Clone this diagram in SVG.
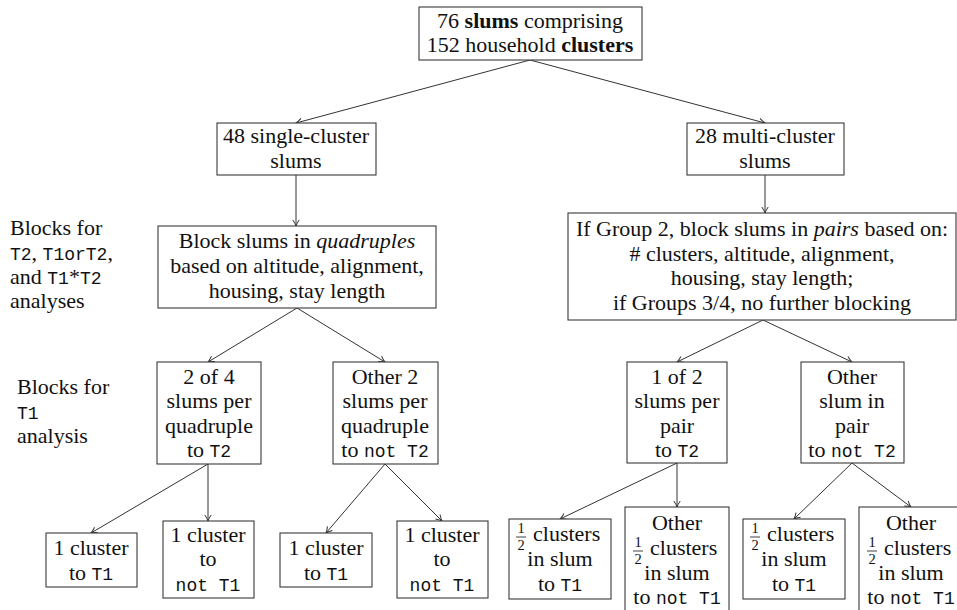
<svg xmlns="http://www.w3.org/2000/svg" width="957" height="610" viewBox="0 0 957 610">
<style>
  .bg{fill:#ffffff}
  .box{fill:#ffffff;stroke:#3a3a3a;stroke-width:1.1}
  .t{font-family:"Liberation Serif","Times New Roman",serif;font-size:22px;fill:#111111;text-anchor:middle}
  .l{font-family:"Liberation Serif","Times New Roman",serif;font-size:22px;fill:#111111;text-anchor:start}
  .cs{font-family:"Liberation Serif","Times New Roman",serif;font-size:22px;fill:#111111;text-anchor:start}
  .fr{font-family:"Liberation Serif","Times New Roman",serif;font-size:14.5px;fill:#111111;text-anchor:middle}
  .m{font-family:"Liberation Mono","Courier New",monospace;font-size:18px}
  .b{font-weight:bold}
  .i{font-style:italic}
  .bar{stroke:#111111;stroke-width:0.8}
  .c{fill:none;stroke:#333333;stroke-width:1}
</style>
<defs>
  <marker id="arr" viewBox="-8 -5 10 10" refX="0" refY="0" markerWidth="10" markerHeight="10" markerUnits="userSpaceOnUse" orient="auto">
    <path d="M-6,-3.2 Q-2.5,-0.8 0,0 Q-2.5,0.8 -6,3.2" fill="none" stroke="#333333" stroke-width="1"/>
  </marker>
</defs>
<rect class="bg" x="0" y="0" width="957" height="610"/>

<g id="connectors">
  <line class="c" x1="530" y1="60" x2="296" y2="123" marker-end="url(#arr)"/>
  <line class="c" x1="530" y1="60" x2="765" y2="123" marker-end="url(#arr)"/>
  <line class="c" x1="296" y1="175" x2="296" y2="226" marker-end="url(#arr)"/>
  <line class="c" x1="765" y1="175" x2="765" y2="213" marker-end="url(#arr)"/>
  <line class="c" x1="297" y1="308" x2="208" y2="362" marker-end="url(#arr)"/>
  <line class="c" x1="297" y1="308" x2="385" y2="362" marker-end="url(#arr)"/>
  <line class="c" x1="763" y1="320" x2="677" y2="362" marker-end="url(#arr)"/>
  <line class="c" x1="763" y1="320" x2="852" y2="362" marker-end="url(#arr)"/>
  <line class="c" x1="208" y1="464" x2="91" y2="533" marker-end="url(#arr)"/>
  <line class="c" x1="208" y1="464" x2="208" y2="521" marker-end="url(#arr)"/>
  <line class="c" x1="385" y1="464" x2="326" y2="533" marker-end="url(#arr)"/>
  <line class="c" x1="385" y1="464" x2="442" y2="521" marker-end="url(#arr)"/>
  <line class="c" x1="677" y1="463" x2="560" y2="519" marker-end="url(#arr)"/>
  <line class="c" x1="677" y1="463" x2="677" y2="507" marker-end="url(#arr)"/>
  <line class="c" x1="852" y1="463" x2="794" y2="519" marker-end="url(#arr)"/>
  <line class="c" x1="852" y1="463" x2="911" y2="507" marker-end="url(#arr)"/>
</g>

<g id="label-t2">
  <text class="l" x="10" y="235">Blocks for</text>
  <text class="l" x="10" y="260"><tspan class="m">T2</tspan>, <tspan class="m">T1orT2</tspan>,</text>
  <text class="l" x="10" y="284">and <tspan class="m">T1</tspan>*<tspan class="m">T2</tspan></text>
  <text class="l" x="10" y="308">analyses</text>
</g>
<g id="label-t1">
  <text class="l" x="17" y="394">Blocks for</text>
  <text class="l" x="17" y="419"><tspan class="m">T1</tspan></text>
  <text class="l" x="17" y="443">analysis</text>
</g>

<g id="root">
  <rect class="box" x="419" y="7" width="223" height="53"/>
  <text class="t" x="530" y="28">76 <tspan class="b">slums</tspan> comprising</text>
  <text class="t" x="530" y="52">152 household <tspan class="b">clusters</tspan></text>
</g>

<g id="single">
  <rect class="box" x="217" y="123" width="159" height="52"/>
  <text class="t" x="296" y="143">48 single-cluster</text>
  <text class="t" x="296" y="168">slums</text>
</g>

<g id="multi">
  <rect class="box" x="687" y="123" width="157" height="52"/>
  <text class="t" x="765" y="143">28 multi-cluster</text>
  <text class="t" x="765" y="168">slums</text>
</g>

<g id="quad">
  <rect class="box" x="158" y="226" width="278" height="82"/>
  <text class="t" x="297" y="248">Block slums in <tspan class="i">quadruples</tspan></text>
  <text class="t" x="297" y="273">based on altitude, alignment,</text>
  <text class="t" x="297" y="298">housing, stay length</text>
</g>

<g id="pairs">
  <rect class="box" x="568" y="213" width="388" height="107"/>
  <text class="t" x="762" y="236">If Group 2, block slums in <tspan class="i">pairs</tspan> based on:</text>
  <text class="t" x="762" y="261"># clusters, altitude, alignment,</text>
  <text class="t" x="762" y="285">housing, stay length;</text>
  <text class="t" x="762" y="310">if Groups 3/4, no further blocking</text>
</g>

<g id="two-of-four">
  <rect class="box" x="157" y="362" width="104" height="102"/>
  <text class="t" x="209" y="384">2 of 4</text>
  <text class="t" x="209" y="408">slums per</text>
  <text class="t" x="209" y="433">quadruple</text>
  <text class="t" x="209" y="457">to <tspan class="m">T2</tspan></text>
</g>

<g id="other-two">
  <rect class="box" x="333" y="362" width="105" height="102"/>
  <text class="t" x="385" y="384">Other 2</text>
  <text class="t" x="385" y="408">slums per</text>
  <text class="t" x="385" y="433">quadruple</text>
  <text class="t" x="385" y="457">to <tspan class="m">not T2</tspan></text>
</g>

<g id="one-of-two">
  <rect class="box" x="627" y="362" width="100" height="101"/>
  <text class="t" x="677" y="384">1 of 2</text>
  <text class="t" x="677" y="408">slums per</text>
  <text class="t" x="677" y="433">pair</text>
  <text class="t" x="677" y="457">to <tspan class="m">T2</tspan></text>
</g>

<g id="other-slum">
  <rect class="box" x="801" y="362" width="103" height="101"/>
  <text class="t" x="852" y="384">Other</text>
  <text class="t" x="852" y="408">slum in</text>
  <text class="t" x="852" y="433">pair</text>
  <text class="t" x="852" y="457">to <tspan class="m">not T2</tspan></text>
</g>

<g id="leaf1">
  <rect class="box" x="46" y="533" width="91" height="54"/>
  <text class="t" x="91" y="555">1 cluster</text>
  <text class="t" x="91" y="580">to <tspan class="m">T1</tspan></text>
</g>
<g id="leaf2">
  <rect class="box" x="163" y="521" width="91" height="77"/>
  <text class="t" x="208" y="542">1 cluster</text>
  <text class="t" x="208" y="566">to</text>
  <text class="t" x="208" y="591"><tspan class="m">not T1</tspan></text>
</g>
<g id="leaf3">
  <rect class="box" x="280" y="533" width="92" height="54"/>
  <text class="t" x="326" y="555">1 cluster</text>
  <text class="t" x="326" y="580">to <tspan class="m">T1</tspan></text>
</g>
<g id="leaf4">
  <rect class="box" x="397" y="521" width="91" height="77"/>
  <text class="t" x="442" y="542">1 cluster</text>
  <text class="t" x="442" y="566">to</text>
  <text class="t" x="442" y="591"><tspan class="m">not T1</tspan></text>
</g>

<g id="leaf5">
  <rect class="box" x="509" y="519" width="102" height="80"/>
  <text class="fr" x="521" y="533">1</text>
  <line class="bar" x1="516" y1="537" x2="526" y2="537"/>
  <text class="fr" x="521" y="550">2</text>
  <text class="cs" x="533" y="541">clusters</text>
  <text class="t" x="560" y="566">in slum</text>
  <text class="t" x="560" y="591">to <tspan class="m">T1</tspan></text>
</g>
<g id="leaf6">
  <rect class="box" x="625" y="507" width="104" height="106"/>
  <text class="t" x="677" y="530">Other</text>
  <text class="fr" x="638" y="547">1</text>
  <line class="bar" x1="633" y1="551" x2="643" y2="551"/>
  <text class="fr" x="638" y="564">2</text>
  <text class="cs" x="650" y="555">clusters</text>
  <text class="t" x="677" y="580">in slum</text>
  <text class="t" x="677" y="604">to <tspan class="m">not T1</tspan></text>
</g>
<g id="leaf7">
  <rect class="box" x="743" y="519" width="102" height="80"/>
  <text class="fr" x="755" y="533">1</text>
  <line class="bar" x1="750" y1="537" x2="760" y2="537"/>
  <text class="fr" x="755" y="550">2</text>
  <text class="cs" x="767" y="541">clusters</text>
  <text class="t" x="794" y="566">in slum</text>
  <text class="t" x="794" y="591">to <tspan class="m">T1</tspan></text>
</g>
<g id="leaf8">
  <rect class="box" x="859" y="507" width="104" height="106"/>
  <text class="t" x="911" y="530">Other</text>
  <text class="fr" x="872" y="547">1</text>
  <line class="bar" x1="867" y1="551" x2="877" y2="551"/>
  <text class="fr" x="872" y="564">2</text>
  <text class="cs" x="884" y="555">clusters</text>
  <text class="t" x="911" y="580">in slum</text>
  <text class="t" x="911" y="604">to <tspan class="m">not T1</tspan></text>
</g>
</svg>
